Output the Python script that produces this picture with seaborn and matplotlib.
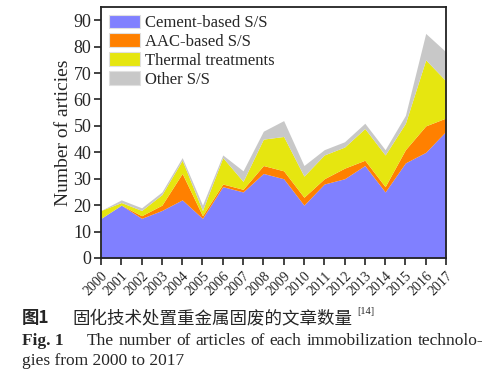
import numpy as np
import matplotlib
matplotlib.use("Agg")
import matplotlib.pyplot as plt
import seaborn as sns
import pandas as pd

years = list(range(2000, 2018))
cement = [15, 20, 15, 18, 22, 15, 27, 25, 32, 30, 20, 28, 30, 35, 25, 36, 40, 48]
aac = [0, 0, 1, 2, 10, 1, 1, 1, 3, 3, 3, 2, 4, 2, 2, 5, 10, 5]
thermal = [3, 1, 2, 4, 5, 2, 10, 3, 10, 13, 8, 9, 8, 12, 12, 10, 25, 14]
other = [0, 1, 1, 1, 1, 2, 1, 4, 3, 6, 4, 2, 2, 2, 2, 3, 10, 11]
series_names = ["Cement-based S/S", "AAC-based S/S", "Thermal treatments", "Other S/S"]
colors = ["#8080FF", "#FF8000", "#E6E610", "#C8C8C8"]

df = pd.DataFrame({"year": years, series_names[0]: cement, series_names[1]: aac,
                   series_names[2]: thermal, series_names[3]: other})

sns.set_theme(style="ticks")
plt.rcParams["font.family"] = ["Liberation Serif", "Noto Sans CJK SC", "DejaVu Sans"]
plt.rcParams["axes.edgecolor"] = "#222222"
plt.rcParams["axes.linewidth"] = 1.3

fig = plt.figure(figsize=(4.84, 3.82), dpi=100)
ax = fig.add_axes([101/484, 1-258/382, (446-101)/484, (258-7)/382])

ax.stackplot(df["year"], [df[n] for n in series_names], labels=series_names,
             colors=colors, linewidth=0)

ax.set_xlim(2000, 2017)
ax.set_ylim(0, 95)
ax.set_yticks(range(0, 100, 10))
ax.set_xticks(years)
ax.set_xticklabels([str(y) for y in years], rotation=45, ha="right",
                   rotation_mode="anchor", fontsize=10)
ax.tick_params(axis="y", labelsize=13, length=5, width=1.2, direction="out", pad=2, color="#222222")
ax.tick_params(axis="x", length=5, width=1.2, direction="out", pad=3, color="#222222")
ax.set_ylabel("Number of articies", fontsize=14, labelpad=1)
for sp in ax.spines.values():
    sp.set_visible(True)

leg = ax.legend(loc="upper left", frameon=False, fontsize=12, handlelength=1.9,
                handleheight=0.85, handletextpad=0.3, labelspacing=0.15,
                borderaxespad=0.25, borderpad=0.2)
for h in leg.legend_handles:
    h.set_edgecolor("#e0e0e0")
    h.set_linewidth(0.8)

# captions
fig.text(22/484, 1-318/382, "图1", fontsize=12.5, fontweight="bold", va="center",
         family=["Noto Sans CJK SC", "DejaVu Sans"])
fig.text(72/484, 1-318/382, "固化技术处置重金属固废的文章数量", fontsize=12.6, va="center",
         family=["Noto Sans CJK SC", "DejaVu Sans"])
fig.text(357/484, 1-312/382, "[14]", fontsize=7.5, va="center", family=["Liberation Serif"])

fig.text(22/484, 1-341/382, "Fig. 1", fontsize=12.5, fontweight="bold", va="center")

# justified first caption line between x=87 and x=483 px
words = ["The", "number", "of", "articles", "of", "each", "immobilization", "technolo-"]
renderer = fig.canvas.get_renderer()
objs = [fig.text(0, 1-341/382, w, fontsize=12.5, va="center") for w in words]
widths = [t.get_window_extent(renderer).width for t in objs]
x0, x1 = 87, 483
gap = (x1 - x0 - sum(widths)) / (len(words) - 1)
x = x0
for t, wdt in zip(objs, widths):
    t.set_x(x / 484)
    x += wdt + gap
fig.text(22/484, 1-361/382, "gies from 2000 to 2017", fontsize=12.5, va="center")

fig.savefig("out.png", dpi=100)
